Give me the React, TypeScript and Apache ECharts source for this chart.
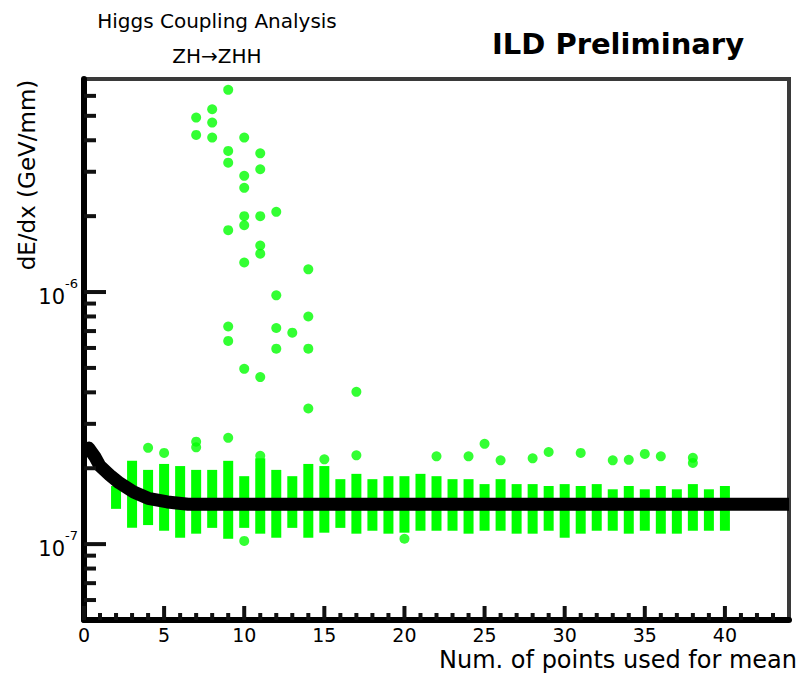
import React, { useEffect, useRef } from 'react';
import * as echarts from 'echarts';

const FONT = "'DejaVu Sans', 'Liberation Sans', Arial, sans-serif";

// ---------------- data ----------------
const columnX = [2, 3, 4, 5, 6, 7, 8, 9, 10, 11, 12, 13, 14, 15, 16, 17, 18, 19, 20, 21, 22, 23, 24, 25, 26, 27, 28, 29, 30, 31, 32, 33, 34, 35, 36, 37, 38, 39, 40];
const columnHigh = [1.70e-7, 2.14e-7, 1.97e-7, 2.08e-7, 2.04e-7, 1.97e-7, 1.97e-7, 2.14e-7, 1.86e-7, 2.19e-7, 1.97e-7, 1.86e-7, 2.08e-7, 2.04e-7, 1.81e-7, 1.90e-7, 1.81e-7, 1.86e-7, 1.86e-7, 1.90e-7, 1.86e-7, 1.81e-7, 1.81e-7, 1.73e-7, 1.81e-7, 1.73e-7, 1.73e-7, 1.70e-7, 1.73e-7, 1.70e-7, 1.73e-7, 1.65e-7, 1.70e-7, 1.65e-7, 1.70e-7, 1.65e-7, 1.73e-7, 1.65e-7, 1.70e-7];
const columnLow = [1.38e-7, 1.16e-7, 1.19e-7, 1.13e-7, 1.06e-7, 1.10e-7, 1.16e-7, 1.05e-7, 1.16e-7, 1.10e-7, 1.06e-7, 1.16e-7, 1.06e-7, 1.11e-7, 1.16e-7, 1.10e-7, 1.13e-7, 1.10e-7, 1.11e-7, 1.13e-7, 1.13e-7, 1.13e-7, 1.10e-7, 1.13e-7, 1.13e-7, 1.10e-7, 1.10e-7, 1.13e-7, 1.06e-7, 1.10e-7, 1.13e-7, 1.13e-7, 1.10e-7, 1.13e-7, 1.10e-7, 1.10e-7, 1.13e-7, 1.13e-7, 1.13e-7];

const outlierX = [4, 5, 7, 7, 7, 7, 8, 8, 8, 9, 9, 9, 9, 9, 9, 9, 10, 10, 10, 10, 10, 10, 10, 10, 11, 11, 11, 11, 11, 11, 11, 12, 12, 12, 12, 13, 14, 14, 14, 14, 15, 17, 17, 20, 22, 24, 25, 26, 28, 29, 31, 33, 34, 35, 36, 38, 38];
const outlierY = [2.41e-7, 2.30e-7, 4.92e-6, 4.2e-6, 2.55e-7, 2.42e-7, 5.31e-6, 4.7e-6, 4.1e-6, 6.34e-6, 3.63e-6, 3.26e-6, 1.76e-6, 7.3e-7, 6.4e-7, 2.64e-7, 4.1e-6, 2.89e-6, 2.59e-6, 2.0e-6, 1.84e-6, 1.31e-6, 4.96e-7, 1.03e-7, 3.55e-6, 3.07e-6, 2.0e-6, 1.53e-6, 1.42e-6, 4.6e-7, 2.24e-7, 2.08e-6, 9.7e-7, 7.2e-7, 5.96e-7, 6.9e-7, 1.23e-6, 8.0e-7, 5.96e-7, 3.45e-7, 2.17e-7, 4.02e-7, 2.25e-7, 1.05e-7, 2.23e-7, 2.23e-7, 2.5e-7, 2.15e-7, 2.19e-7, 2.32e-7, 2.3e-7, 2.15e-7, 2.16e-7, 2.28e-7, 2.23e-7, 2.2e-7, 2.1e-7];

const curveX = [0, 0.3, 0.7, 1.0, 1.6, 2.2, 3.1, 4.0, 5.2, 6.5, 44];
const curveY = [2.35e-7, 2.40e-7, 2.21e-7, 2.04e-7, 1.88e-7, 1.75e-7, 1.61e-7, 1.52e-7, 1.47e-7, 1.44e-7, 1.44e-7];

const xMajorTicks = [0, 5, 10, 15, 20, 25, 30, 35, 40];
const xMinorTicks = [1, 2, 3, 4, 6, 7, 8, 9, 11, 12, 13, 14, 16, 17, 18, 19, 21, 22, 23, 24, 26, 27, 28, 29, 31, 32, 33, 34, 36, 37, 38, 39, 41, 42, 43];
const yMajorTicks = [1e-7, 1e-6];
const yMinorTicks = [6e-8, 7e-8, 8e-8, 9e-8, 2e-7, 3e-7, 4e-7, 5e-7, 6e-7, 7e-7, 8e-7, 9e-7, 2e-6, 3e-6, 4e-6, 5e-6, 6e-6];

const X_MIN = 0;
const X_MAX = 44;
const Y_MIN = 5e-8;
const Y_MAX = 7e-6;

const titleText = 'Higgs Coupling Analysis';
const subTitleText = 'ZH\u2192ZHH';
const labelText = 'ILD Preliminary';
const xName = 'Num. of points used for mean';
const yName = 'dE/dx (GeV/mm)';

function tickSeries(values: number[], axis: 'x' | 'y', len: number) {
  return {
    type: 'custom',
    silent: true,
    z: 8,
    clip: false,
    data: values.map((v) => (axis === 'x' ? [v, 1e-7] : [0, v])),
    encode: { x: 0, y: 1 },
    renderItem: (params: any, api: any) => {
      const cs = params.coordSys;
      const p = api.coord([api.value(0), api.value(1)]);
      if (axis === 'x') {
        const yb = cs.y + cs.height;
        return {
          type: 'line',
          shape: { x1: p[0], y1: yb, x2: p[0], y2: yb - len },
          style: { stroke: '#111', lineWidth: 4 },
        };
      }
      return {
        type: 'line',
        shape: { x1: cs.x, y1: p[1], x2: cs.x + len, y2: p[1] },
        style: { stroke: '#111', lineWidth: 4 },
      };
    },
  };
}

export default function App() {
  const ref = useRef<HTMLDivElement>(null);
  useEffect(() => {
    const chart = echarts.init(ref.current!, null, { renderer: 'svg' });
    chart.setOption({
      animation: false,
      backgroundColor: '#fff',
      grid: {
        left: 84,
        top: 79,
        width: 714,
        height: 541,
        show: true,
        borderColor: '#3a3a3a',
        borderWidth: 4,
        backgroundColor: 'transparent',
      },
      xAxis: {
        type: 'value',
        min: X_MIN,
        max: X_MAX,
        interval: 5,
        name: xName,
        nameLocation: 'end',
        nameGap: 8,
        nameTextStyle: {
          align: 'right',
          verticalAlign: 'top',
          padding: [28, 0, 0, 0],
          fontSize: 24,
          fontFamily: FONT,
          color: '#000',
        },
        axisLine: { show: true, onZero: false, lineStyle: { color: '#000', width: 6 } },
        axisTick: { show: false },
        minorTick: { show: false },
        splitLine: { show: false },
        axisLabel: {
          fontSize: 19,
          fontFamily: FONT,
          color: '#000',
          margin: 5,
          formatter: (v: number) => (v <= 40 && v % 5 === 0 ? String(v) : ''),
        },
      },
      yAxis: {
        type: 'log',
        logBase: 10,
        min: Y_MIN,
        max: Y_MAX,
        axisLine: { show: true, onZero: false, lineStyle: { color: '#000', width: 6 } },
        axisTick: { show: false },
        splitLine: { show: false },
        axisLabel: {
          margin: 6,
          color: '#000',
          fontFamily: FONT,
          formatter: (v: number) => {
            const e = Math.log10(v);
            const r = Math.round(e);
            if (Math.abs(e - r) > 1e-6) return '';
            return `{b|10}{s|${r}}`;
          },
          rich: {
            b: { fontSize: 21, fontFamily: FONT, color: '#000', lineHeight: 30, verticalAlign: 'bottom' },
            s: { fontSize: 13, fontFamily: FONT, color: '#000', lineHeight: 13, verticalAlign: 'top' },
          },
        },
      },
      graphic: [
        {
          type: 'text',
          x: 217,
          y: 21,
          style: { text: titleText, fontSize: 20, fontFamily: FONT, fill: '#000', align: 'center', verticalAlign: 'middle' },
        },
        {
          type: 'text',
          x: 217,
          y: 56,
          style: { text: subTitleText, fontSize: 20, fontFamily: FONT, fill: '#000', align: 'center', verticalAlign: 'middle' },
        },
        {
          type: 'text',
          x: 618,
          y: 44,
          style: { text: labelText, fontSize: 29, fontWeight: 'bold', fontFamily: FONT, fill: '#000', align: 'center', verticalAlign: 'middle' },
        },
        {
          type: 'text',
          x: 27,
          y: 175,
          rotation: Math.PI / 2,
          style: { text: yName, fontSize: 23, fontFamily: FONT, fill: '#000', align: 'center', verticalAlign: 'middle' },
        },
      ],
      series: [
        {
          type: 'custom',
          silent: true,
          z: 2,
          data: columnX.map((x, i) => [x, columnLow[i], columnHigh[i]]),
          encode: { x: 0, y: [1, 2] },
          renderItem: (params: any, api: any) => {
            const lo = api.coord([api.value(0), api.value(1)]);
            const hi = api.coord([api.value(0), api.value(2)]);
            const w = 10;
            return {
              type: 'rect',
              shape: { x: lo[0] - w / 2, y: hi[1], width: w, height: lo[1] - hi[1] },
              style: { fill: '#00ff00' },
            };
          },
        },
        {
          type: 'scatter',
          silent: true,
          z: 3,
          symbol: 'circle',
          symbolSize: 10,
          itemStyle: { color: '#00ff00' },
          data: outlierX.map((x, i) => [x, outlierY[i]]),
        },
        {
          type: 'line',
          silent: true,
          z: 4,
          showSymbol: false,
          smooth: false,
          lineStyle: { color: '#000', width: 13, cap: 'butt', join: 'round' },
          data: curveX.map((x, i) => [x, curveY[i]]),
        },
        tickSeries(xMajorTicks, 'x', 14),
        tickSeries(xMinorTicks, 'x', 7),
        tickSeries(yMajorTicks, 'y', 22),
        tickSeries(yMinorTicks, 'y', 12),
      ],
    });
    return () => chart.dispose();
  }, []);
  return (
    <div
      ref={ref}
      style={{ position: 'fixed', left: 0, top: 0, width: 800, height: 673, background: '#fff' }}
    />
  );
}
